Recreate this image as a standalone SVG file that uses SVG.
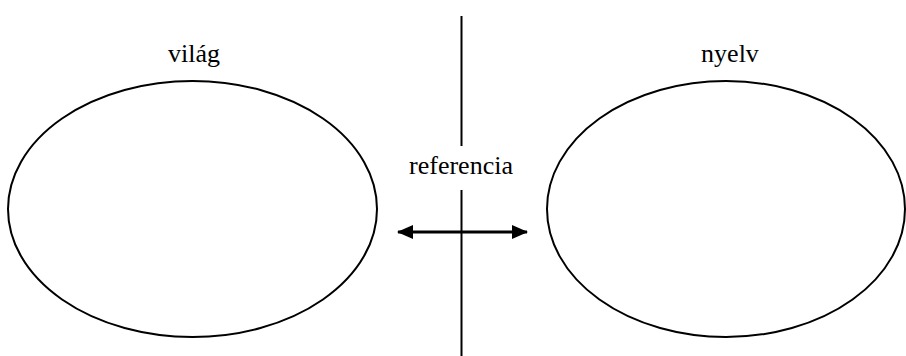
<svg xmlns="http://www.w3.org/2000/svg" width="906" height="356" viewBox="0 0 906 356">
<style>
.shape{fill:none;stroke:#000;stroke-width:2}
</style>
<defs>
<marker id="ah" viewBox="0 0 16 14" refX="15" refY="7" markerWidth="16" markerHeight="14" markerUnits="userSpaceOnUse" orient="auto-start-reverse">
<path d="M0,0 L16,7 L0,14 z" fill="#000"/>
</marker>
</defs>
<rect width="906" height="356" fill="#fff"/>
<g id="connectors">
<line class="shape" x1="461.5" y1="16" x2="461.5" y2="146"/>
<line class="shape" x1="461.5" y1="190" x2="461.5" y2="356"/>
<line class="shape" x1="398" y1="232" x2="527" y2="232" marker-start="url(#ah)" marker-end="url(#ah)" style="stroke-width:3"/>
</g>
<g font-family="Liberation Serif, DejaVu Serif, serif" font-size="26" fill="#000" text-anchor="middle">
<g id="vilag">
<ellipse class="shape" cx="192.5" cy="209" rx="184.5" ry="128"/>
<text x="194" y="62" font-family="Liberation Serif, DejaVu Serif, serif">világ</text>
</g>
<g id="nyelv">
<ellipse class="shape" cx="726" cy="209" rx="179" ry="128"/>
<text x="730" y="62" font-family="Liberation Serif, DejaVu Serif, serif">nyelv</text>
</g>
<g id="referencia">
<text x="461" y="174" font-family="Liberation Serif, DejaVu Serif, serif">referencia</text>
</g>
</g>
</svg>
